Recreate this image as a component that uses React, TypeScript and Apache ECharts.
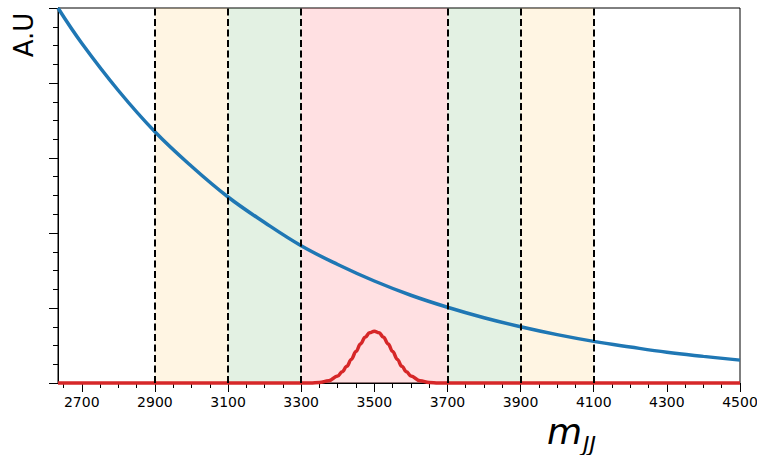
import React, { useEffect, useRef } from "react";
import * as echarts from "echarts";

const xMin = 2635;
const xMax = 4500;
const majorTicks = [2700, 2900, 3100, 3300, 3500, 3700, 3900, 4100, 4300, 4500];
const minorTicks = [2650, 2700, 2750, 2800, 2850, 2900, 2950, 3000, 3050, 3100, 3150, 3200, 3250, 3300, 3350, 3400, 3450, 3500, 3550, 3600, 3650, 3700, 3750, 3800, 3850, 3900, 3950, 4000, 4050, 4100, 4150, 4200, 4250, 4300, 4350, 4400, 4450, 4500];

const bgX = [2635, 2700, 2800, 2900, 3000, 3100, 3200, 3300, 3400, 3500, 3600, 3700, 3800, 3900, 4000, 4100, 4200, 4300, 4400, 4500];
const bgY = [5.0, 4.53, 3.9, 3.35, 2.89, 2.48, 2.14, 1.83, 1.58, 1.36, 1.17, 1.01, 0.87, 0.75, 0.645, 0.555, 0.48, 0.41, 0.355, 0.305];

const sigX = [2635, 3300, 3325, 3350, 3375, 3400, 3412, 3425, 3437, 3450, 3462, 3475, 3487, 3500, 3513, 3525, 3538, 3550, 3563, 3575, 3588, 3600, 3625, 3650, 3675, 3700, 4500];
const sigY = [0, 0, 0.0015, 0.008, 0.03, 0.093, 0.15, 0.224, 0.315, 0.42, 0.52, 0.61, 0.67, 0.69, 0.67, 0.61, 0.52, 0.42, 0.315, 0.224, 0.15, 0.093, 0.03, 0.008, 0.0015, 0, 0];

const bandStarts = [2900, 3100, 3300, 3700, 3900];
const bandEnds = [3100, 3300, 3700, 3900, 4100];
const bandColors = ["rgba(255,165,0,0.11)", "rgba(0,128,0,0.11)", "rgba(255,0,20,0.12)", "rgba(0,128,0,0.11)", "rgba(255,165,0,0.11)"];
const dashedLines = [2900, 3100, 3300, 3700, 3900, 4100];

const FONT = "DejaVu Sans";

export default function App() {
  const ref = useRef<HTMLDivElement>(null);
  useEffect(() => {
    if (!ref.current) return;
    const chart = echarts.init(ref.current, null, { renderer: "svg" });
    chart.setOption({
      animation: false,
      backgroundColor: "#fff",
      grid: {
        left: 58,
        right: 17,
        top: 8,
        bottom: 72,
        containLabel: false,
        outerBoundsMode: "none",
        show: true,
        borderColor: "#000",
        borderWidth: 1,
        backgroundColor: "transparent",
      },
      xAxis: [
        {
          type: "value",
          min: xMin,
          max: xMax,
          axisLine: { show: true, lineStyle: { color: "#000", width: 1 } },
          axisTick: { show: true, length: 9, customValues: majorTicks, lineStyle: { color: "#000", width: 1 } },
          axisLabel: {
            show: true,
            customValues: majorTicks,
            formatter: (v: number) => String(v),
            color: "#000",
            fontFamily: FONT,
            fontSize: 14,
            margin: 12,
          },
          splitLine: { show: false },
        },
        {
          type: "value",
          min: xMin,
          max: xMax,
          position: "bottom",
          axisLine: { show: false },
          axisTick: { show: true, length: 5, customValues: minorTicks, lineStyle: { color: "#000", width: 1 } },
          axisLabel: { show: false },
          splitLine: { show: false },
        },
      ],
      yAxis: {
        type: "value",
        min: 0,
        max: 5,
        interval: 1,
        axisLine: { show: true, lineStyle: { color: "#000", width: 1 } },
        axisTick: { show: true, length: 9, lineStyle: { color: "#000", width: 1 } },
        minorTick: { show: true, splitNumber: 4, length: 5, lineStyle: { color: "#000", width: 1 } },
        axisLabel: { show: false },
        splitLine: { show: false },
        minorSplitLine: { show: false },
      },
      series: [
        {
          type: "line",
          xAxisIndex: 0,
          data: [],
          markArea: {
            silent: true,
            data: bandStarts.map((s, i) => [
              { xAxis: s, itemStyle: { color: bandColors[i] } },
              { xAxis: bandEnds[i] },
            ]),
          },
          markLine: {
            silent: true,
            symbol: "none",
            label: { show: false },
            lineStyle: { color: "#000", type: [7, 3.5], width: 2 },
            data: dashedLines.map((v) => ({ xAxis: v })),
          },
        },
        {
          type: "line",
          xAxisIndex: 0,
          data: sigX.map((x, i) => [x, sigY[i]]),
          showSymbol: false,
          smooth: 0.4,
          smoothMonotone: "x",
          clip: false,
          lineStyle: { color: "#d62728", width: 3.5 },
          z: 3,
        },
        {
          type: "line",
          xAxisIndex: 0,
          data: bgX.map((x, i) => [x, bgY[i]]),
          showSymbol: false,
          smooth: 0.4,
          lineStyle: { color: "#1f77b4", width: 3.5 },
          z: 4,
        },
      ],
      graphic: [
        {
          type: "text",
          x: 24,
          y: 35,
          rotation: Math.PI / 2,
          style: {
            text: "A.U",
            fontFamily: FONT,
            fontSize: 26,
            fill: "#000",
            align: "center",
            verticalAlign: "middle",
          },
        },
        {
          type: "text",
          x: 547,
          y: 431,
          style: {
            text: "m",
            fontFamily: FONT,
            fontStyle: "italic",
            fontSize: 36,
            fill: "#000",
            align: "left",
            verticalAlign: "middle",
          },
        },
        {
          type: "text",
          x: 583,
          y: 444,
          style: {
            text: "JJ",
            fontFamily: FONT,
            fontStyle: "italic",
            fontSize: 22,
            fill: "#000",
            align: "left",
            verticalAlign: "middle",
          },
        },
      ],
    });
    return () => chart.dispose();
  }, []);
  return <div ref={ref} style={{ width: 757, height: 455, position: "absolute", left: 0, top: 0 }} />;
}
